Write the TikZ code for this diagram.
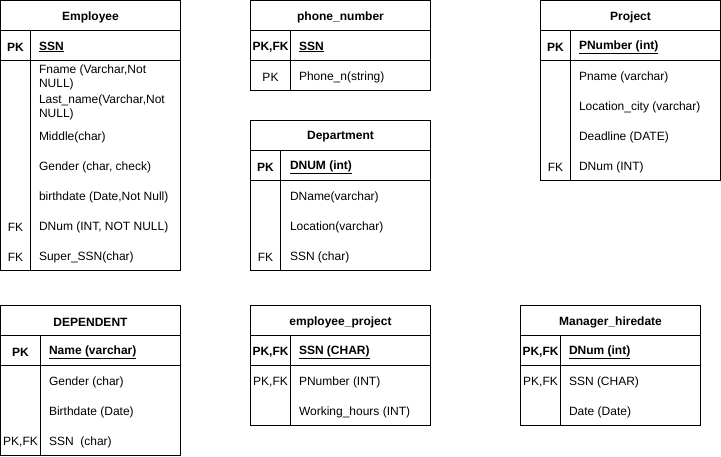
\documentclass[tikz,border=0pt]{standalone}
\usepackage{fontspec}
\setmainfont{Liberation Sans}
\newcommand\txtsz{\fontsize{12}{14}\selectfont}
\begin{document}
\begin{tikzpicture}[x=1pt,y=-1pt,line width=1pt,
  tbl/.style={draw,anchor=north west,inner sep=0pt,outer sep=0pt},
  ttl/.style={font=\txtsz\bfseries,inner sep=0pt,yshift=-1.5pt},
  keyl/.style={font=\txtsz,inner sep=0pt,yshift=-1.5pt},
  keyb/.style={font=\txtsz\bfseries,inner sep=0pt,yshift=-1.5pt},
  attr/.style={font=\txtsz,anchor=west,inner sep=0pt,align=left,yshift=-1.5pt},
  pkattr/.style={font=\txtsz\bfseries,anchor=west,inner sep=0pt,yshift=-1.5pt}]
\useasboundingbox (0,0) rectangle (721,456);

% Employee
\node[tbl,minimum width=180pt,minimum height=270pt] (emp) at (0.5,0.5) {};
\draw (0.5,30.5) -- (180.5,30.5) (0.5,60.5) -- (180.5,60.5) (30.5,30.5) -- (30.5,270.5);
\node[ttl] (empT) at (90.5,15.5) {Employee};
\node[keyb] (empK1) at (15.5,45.5) {PK};
\node[pkattr] (empA1) at (38.5,45.5) {\underline{SSN}};
\node[attr] (empA2) at (38.5,75.5) {Fname (Varchar,Not\\NULL)};
\node[attr] (empA3) at (38.5,105.5) {Last\_name(Varchar,Not\\NULL)};
\node[attr] (empA4) at (38.5,135.5) {Middle(char)};
\node[attr] (empA5) at (38.5,165.5) {Gender (char, check)};
\node[attr] (empA6) at (38.5,195.5) {birthdate (Date,Not Null)};
\node[keyl] (empK7) at (15.5,225.5) {FK};
\node[attr] (empA7) at (38.5,225.5) {DNum (INT, NOT NULL)};
\node[keyl] (empK8) at (15.5,255.5) {FK};
\node[attr] (empA8) at (38.5,255.5) {Super\_SSN(char)};

% phone_number
\node[tbl,minimum width=180pt,minimum height=90pt] (ph) at (250.5,0.5) {};
\draw (250.5,30.5) -- (430.5,30.5) (250.5,60.5) -- (430.5,60.5) (290.5,30.5) -- (290.5,90.5);
\node[ttl] (phT) at (340.5,15.5) {phone\_number};
\node[keyb] (phK1) at (270.5,45.5) {PK,FK};
\node[pkattr] (phA1) at (298.5,45.5) {\underline{SSN}};
\node[keyl] (phK2) at (270.5,75.5) {PK};
\node[attr] (phA2) at (298.5,75.5) {Phone\_n(string)};

% Department
\node[tbl,minimum width=180pt,minimum height=150pt] (dep) at (250.5,120.5) {};
\draw (250.5,150.5) -- (430.5,150.5) (250.5,180.5) -- (430.5,180.5) (280.5,150.5) -- (280.5,270.5);
\node[ttl] (depT) at (340.5,135.5) {Department};
\node[keyb] (depK1) at (265.5,165.5) {PK};
\node[pkattr] (depA1) at (289.5,165.5) {\underline{DNUM (int)}};
\node[attr] (depA2) at (289.5,195.5) {DName(varchar)};
\node[attr] (depA3) at (289.5,225.5) {Location(varchar)};
\node[keyl] (depK4) at (265.5,255.5) {FK};
\node[attr] (depA4) at (289.5,255.5) {SSN (char)};

% Project
\node[tbl,minimum width=180pt,minimum height=180pt] (prj) at (540.5,0.5) {};
\draw (540.5,30.5) -- (720.5,30.5) (540.5,60.5) -- (720.5,60.5) (570.5,30.5) -- (570.5,180.5);
\node[ttl] (prjT) at (630.5,15.5) {Project};
\node[keyb] (prjK1) at (555.5,45.5) {PK};
\node[pkattr] (prjA1) at (578.5,45.5) {\underline{PNumber (int)}};
\node[attr] (prjA2) at (578.5,75.5) {Pname (varchar)};
\node[attr] (prjA3) at (578.5,105.5) {Location\_city (varchar)};
\node[attr] (prjA4) at (578.5,135.5) {Deadline (DATE)};
\node[keyl] (prjK5) at (555.5,165.5) {FK};
\node[attr] (prjA5) at (578.5,165.5) {DNum (INT)};

% DEPENDENT
\node[tbl,minimum width=180pt,minimum height=150pt] (dpd) at (0.5,305.5) {};
\draw (0.5,335.5) -- (180.5,335.5) (0.5,365.5) -- (180.5,365.5) (40.5,335.5) -- (40.5,455.5);
\node[ttl] (dpdT) at (90.5,320.5) {DEPENDENT};
\node[keyb] (dpdK1) at (20.5,350.5) {PK};
\node[pkattr] (dpdA1) at (48.5,350.5) {\underline{Name (varchar)}};
\node[attr] (dpdA2) at (48.5,380.5) {Gender (char)};
\node[attr] (dpdA3) at (48.5,410.5) {Birthdate (Date)};
\node[keyl] (dpdK4) at (20.5,440.5) {PK,FK};
\node[attr] (dpdA4) at (48.5,440.5) {SSN\ \ (char)};

% employee_project
\node[tbl,minimum width=180pt,minimum height=120pt] (ep) at (250.5,305.5) {};
\draw (250.5,335.5) -- (430.5,335.5) (250.5,365.5) -- (430.5,365.5) (290.5,335.5) -- (290.5,425.5);
\node[ttl] (epT) at (340.5,320.5) {employee\_project};
\node[keyb] (epK1) at (270.5,350.5) {PK,FK};
\node[pkattr] (epA1) at (298.5,350.5) {\underline{SSN (CHAR)}};
\node[keyl] (epK2) at (270.5,380.5) {PK,FK};
\node[attr] (epA2) at (298.5,380.5) {PNumber (INT)};
\node[attr] (epA3) at (298.5,410.5) {Working\_hours (INT)};

% Manager_hiredate
\node[tbl,minimum width=180pt,minimum height=120pt] (mh) at (520.5,305.5) {};
\draw (520.5,335.5) -- (700.5,335.5) (520.5,365.5) -- (700.5,365.5) (560.5,335.5) -- (560.5,425.5);
\node[ttl] (mhT) at (610.5,320.5) {Manager\_hiredate};
\node[keyb] (mhK1) at (540.5,350.5) {PK,FK};
\node[pkattr] (mhA1) at (568.5,350.5) {\underline{DNum (int)}};
\node[keyl] (mhK2) at (540.5,380.5) {PK,FK};
\node[attr] (mhA2) at (568.5,380.5) {SSN (CHAR)};
\node[attr] (mhA3) at (568.5,410.5) {Date (Date)};
\end{tikzpicture}
\end{document}
